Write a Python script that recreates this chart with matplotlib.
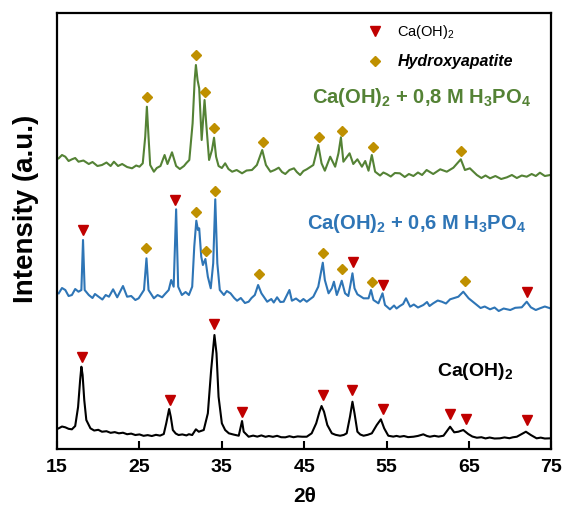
import numpy as np
import matplotlib.pyplot as plt
from matplotlib.lines import Line2D

plt.rcParams['font.family'] = ['Liberation Sans', 'DejaVu Sans']
plt.rcParams['mathtext.fontset'] = 'custom'
plt.rcParams['mathtext.rm'] = 'Liberation Sans'
plt.rcParams['mathtext.it'] = 'Liberation Sans:italic'
plt.rcParams['mathtext.bf'] = 'Liberation Sans:bold'

# XRD patterns: (2theta, intensity a.u., already stacked)
cal = [(15.2, 20.7), (15.6, 22.5), (16.0, 21.7), (16.4, 20.2), (16.8, 19.7), (17.2, 23), (17.55, 42),
       (17.8, 69), (17.95, 82.3), (18.1, 74), (18.3, 49), (18.55, 29), (19.05, 20.7), (19.5, 18.5),
       (20.0, 19.2), (20.45, 17.3), (21.0, 17.8), (21.5, 16.2), (22.0, 16.9), (22.5, 15.7), (23.0, 16.3),
       (23.5, 14.8), (24.0, 15.4), (24.5, 14), (25.0, 14.6), (25.5, 13.2), (26.0, 13.9), (26.5, 13),
       (27.0, 14.2), (27.5, 13.4), (27.95, 15), (28.25, 25.7), (28.6, 40), (28.8, 32.3), (29.05, 19),
       (29.4, 15.5), (29.75, 14), (30.2, 14.6), (30.7, 13.6), (31.0, 14.8), (31.4, 14), (31.85, 19.7),
       (32.2, 17.3), (32.5, 18.2), (32.8, 19), (33.3, 35.7), (33.7, 79), (34.1, 114), (34.35, 95.7),
       (34.6, 52.3), (35.0, 25.7), (35.4, 19), (35.85, 15.7), (36.4, 14.5), (37.05, 13.3), (37.3, 22.3),
       (37.45, 28), (37.65, 17.3), (38.25, 12.3), (38.8, 13.4), (39.3, 12.4), (39.8, 13.6), (40.3, 12.2),
       (40.7, 13), (41.2, 12.2), (41.7, 13.2), (42.2, 11.8), (42.7, 11.7), (43.2, 12.8), (43.7, 11.8),
       (44.2, 12.6), (44.75, 12.3), (45.3, 12.3), (45.9, 15.7), (46.45, 25.7), (46.85, 37.3), (47.1, 43),
       (47.4, 37.3), (47.8, 24), (48.35, 15.7), (48.8, 14.2), (49.35, 13.3), (49.8, 14.1), (50.15, 15.7),
       (50.55, 32.3), (50.85, 47.3), (51.1, 35.7), (51.45, 17.3), (51.8, 14.5), (52.2, 13.3), (52.7, 14.2),
       (53.2, 15.7), (53.8, 24), (54.3, 29.7), (54.7, 20.7), (55.2, 13.3), (55.8, 12.4), (56.2, 13.1),
       (56.6, 12.3), (57.1, 13), (57.6, 11.9), (58.25, 12.3), (58.8, 13.1), (59.45, 14.7), (59.9, 13),
       (60.25, 12.3), (60.8, 13.2), (61.3, 12.4), (61.9, 13.3), (62.4, 19), (62.7, 22.3), (63.2, 16.7),
       (63.7, 17.3), (64.3, 19), (64.9, 15), (65.4, 12.5), (65.95, 11.3), (66.5, 11.8), (67.0, 10.6),
       (67.5, 11.5), (68.1, 10.5), (68.75, 10.7), (69.3, 11.6), (69.9, 10.8), (70.3, 11.7), (70.8, 12.3),
       (71.4, 15), (71.9, 17.3), (72.5, 14), (73.2, 10.7), (73.7, 11.4), (74.2, 10.5), (74.85, 10.7)]

m06 = [(15.2, 155.7), (15.6, 161), (16.0, 159), (16.4, 153), (16.8, 154), (17.2, 160), (17.6, 157.3),
       (17.95, 159), (18.15, 209), (18.35, 159), (18.85, 154), (19.3, 151), (19.6, 155), (20.05, 152.3),
       (20.5, 149.5), (20.9, 154), (21.3, 152.3), (21.8, 159.7), (22.3, 151.7), (23.0, 163), (23.5, 152.3),
       (24.0, 153), (24.5, 149), (24.9, 150.7), (25.55, 159), (25.85, 190.7), (26.1, 159), (26.75, 150.7),
       (27.2, 154), (27.75, 151.7), (28.1, 155), (28.55, 159), (28.85, 169), (29.15, 162.3), (29.45, 239.7),
       (29.7, 162.3), (30.15, 154), (30.6, 157), (31.0, 154), (31.4, 162.3), (31.65, 202.3), (31.9, 228.3),
       (32.1, 219), (32.25, 220.7), (32.5, 192.3), (32.7, 184), (33.0, 190), (33.3, 172.3), (33.65, 160.7),
       (33.95, 185.7), (34.2, 249.7), (34.45, 185.7), (34.75, 159), (35.25, 154), (35.6, 158),
       (36.05, 155.7), (36.5, 151), (36.85, 148.3), (37.3, 151), (37.8, 146), (38.25, 147.3), (38.6, 151),
       (39.0, 154), (39.4, 164), (39.8, 155.7), (40.5, 147.3), (41.0, 150), (41.3, 146.5), (41.7, 151.7),
       (42.1, 147), (42.5, 147.3), (43.2, 159), (43.5, 148.3), (44.0, 150.5), (44.5, 147.3), (44.9, 150),
       (45.3, 147.3), (46.1, 152.3), (46.7, 162.3), (47.0, 175.7), (47.25, 186.3), (47.5, 169),
       (47.95, 155.7), (48.35, 160.7), (48.6, 167.3), (48.95, 154), (49.25, 160.7), (49.55, 168.3),
       (49.95, 155.7), (50.35, 153), (50.6, 164), (50.85, 175.7), (51.1, 160.7), (51.45, 154.7),
       (52.2, 150.7), (52.8, 150.7), (53.1, 159), (53.4, 149), (54.0, 145.7), (54.5, 155.7), (54.8, 144),
       (55.4, 139.7), (55.9, 143.5), (56.2, 140.5), (56.6, 143), (57.0, 145), (57.35, 150.7),
       (57.85, 142.3), (58.3, 144.5), (58.8, 141.5), (59.45, 144), (59.9, 147), (60.2, 143),
       (60.65, 145.7), (61.2, 148.5), (61.7, 147.3), (62.2, 145.5), (62.7, 149.7), (63.2, 151),
       (63.7, 152.3), (64.3, 157.3), (64.95, 150.7), (65.95, 144), (66.4, 141), (66.9, 142.5),
       (67.55, 139.7), (68.1, 141.5), (68.6, 138), (69.2, 140.5), (70.0, 139), (70.6, 141.2),
       (71.4, 141.7), (72.0, 147.3), (72.5, 141.7), (73.1, 139), (73.6, 140.7), (74.2, 142.5), (74.85, 140.7)]

m08 = [(15.2, 290.7), (15.6, 294), (16.0, 292.3), (16.4, 288), (16.8, 289.7), (17.2, 291), (17.6, 287.3),
       (18.2, 288.5), (18.85, 285), (19.3, 287), (19.9, 283), (20.45, 284), (21.0, 286.5), (21.5, 283),
       (21.9, 287.3), (22.4, 283), (22.9, 285), (23.5, 282), (24.1, 280.7), (24.6, 283.5), (25.0, 282.3),
       (25.4, 285.7), (25.7, 312.3), (25.9, 342.3), (26.1, 312.3), (26.3, 284), (26.75, 277.3), (27.1, 281),
       (27.55, 283), (28.05, 294), (28.4, 285), (28.95, 296.7), (29.45, 283), (29.9, 280), (30.4, 283),
       (30.7, 286), (31.05, 289), (31.45, 325.7), (31.7, 369), (31.85, 384), (32.05, 369), (32.25, 360.7),
       (32.55, 309), (32.9, 349), (33.1, 325.7), (33.45, 289), (33.8, 299), (34.05, 311.3), (34.3, 292.3),
       (34.6, 283), (35.0, 281), (35.4, 285.7), (35.8, 280), (36.25, 277.3), (36.8, 279), (37.45, 275.7),
       (38.0, 278.5), (38.65, 279), (39.25, 284), (39.9, 299), (40.35, 284), (40.9, 277.3), (41.4, 279),
       (41.9, 281.3), (42.3, 277), (42.7, 275), (43.2, 279), (43.75, 280.7), (44.1, 277), (44.5, 274),
       (44.9, 278), (45.3, 279.7), (46.1, 284), (46.7, 304), (47.1, 285.7), (47.5, 278.3), (48.15, 292.3),
       (48.75, 282.3), (49.15, 295.7), (49.45, 311.7), (49.75, 287.3), (50.5, 295.7), (50.95, 285),
       (51.45, 289.7), (52.0, 282.3), (52.4, 288), (52.8, 278.3), (53.2, 294), (53.6, 277.3), (54.2, 273.5),
       (54.6, 276.5), (55.0, 275), (55.5, 272.5), (56.0, 276), (56.6, 275.7), (57.2, 272), (57.7, 275),
       (58.25, 273), (58.8, 276.5), (59.3, 274), (59.85, 279), (60.65, 275), (61.5, 279.7), (62.3, 277.3),
       (63.1, 281.3), (64.0, 289.7), (64.5, 279), (65.1, 280.7), (65.95, 274), (66.5, 271), (67.0, 273.5),
       (67.55, 270.7), (68.2, 273), (68.9, 270), (69.6, 271.7), (70.2, 274), (70.8, 271), (71.4, 273.5),
       (72.0, 272.3), (72.6, 275), (73.1, 273), (73.6, 276.3), (74.2, 273), (74.85, 274)]

# phase markers (2theta, height)
cal_ch = [(18.03, 92), (28.68, 49), (34.1, 125), (37.5, 37.3), (47.25, 54), (50.85, 59),
          (54.5, 39.7), (62.7, 35), (64.6, 30), (72.0, 29)]
m06_ch = [(18.15, 219), (29.35, 249), (50.95, 187.3), (54.6, 164), (72.0, 157.3)]
m06_hap = [(25.84, 200.7), (31.9, 236.7), (33.1, 198.3), (34.2, 258.3), (39.55, 175),
           (47.25, 195.7), (49.6, 180), (53.2, 166.7), (64.5, 168)]
m08_hap = [(25.9, 352.3), (31.87, 394), (32.96, 357.3), (34.1, 321.3), (40.0, 307.3),
           (46.8, 312.3), (49.55, 318.3), (53.3, 302.3), (64.07, 298.3)]

green = '#548235'
blue = '#2e75b6'
red = '#c00000'
gold = '#bf9000'

fig = plt.figure(figsize=(5.65, 5.2), dpi=100)
ax = fig.add_axes([0.101, 0.1365, 0.875, 0.8385])

for data, col in [(cal, 'black'), (m06, blue), (m08, green)]:
    d = np.array(data)
    ax.plot(d[:, 0], d[:, 1], color=col, lw=1.5)

for data in [cal_ch, m06_ch]:
    d = np.array(data)
    ax.plot(d[:, 0], d[:, 1], 'v', color=red, ms=6.5)
for data in [m06_hap, m08_hap]:
    d = np.array(data)
    ax.plot(d[:, 0], d[:, 1], 'D', color=gold, ms=4.8)

ax.text(59.2, 352, r'Ca(OH)$_\mathbf{2}$ + 0,8 M H$_\mathbf{3}$PO$_\mathbf{4}$',
        color=green, fontsize=14.5, fontweight='bold', ha='center', va='center')
ax.text(58.6, 226, r'Ca(OH)$_\mathbf{2}$ + 0,6 M H$_\mathbf{3}$PO$_\mathbf{4}$',
        color=blue, fontsize=14.5, fontweight='bold', ha='center', va='center')
ax.text(65.7, 78, r'Ca(OH)$_\mathbf{2}$',
        color='black', fontsize=14, fontweight='bold', ha='center', va='center')

handles = [Line2D([], [], marker='v', color=red, ls='none', ms=6.5),
           Line2D([], [], marker='D', color=gold, ls='none', ms=4.8)]
leg = ax.legend(handles, [r'Ca(OH)$_2$', 'Hydroxyapatite'],
                loc='upper left', bbox_to_anchor=(0.588, 1.008), frameon=False,
                fontsize=10.5, handletextpad=0.5, labelspacing=0.9)
leg.get_texts()[1].set_fontstyle('italic')
leg.get_texts()[1].set_fontweight('bold')
leg.get_texts()[1].set_fontsize(11.5)

ax.set_xlim(15, 75)
ax.set_ylim(0, 436)
ax.set_xticks([15, 25, 35, 45, 55, 65, 75])
ax.set_yticks([])
ax.tick_params(axis='x', direction='in', length=6, width=1.5, labelsize=14, pad=7)
for lab in ax.get_xticklabels():
    lab.set_fontweight('bold')
for sp in ax.spines.values():
    sp.set_linewidth(1.6)

ax.set_xlabel('2θ', fontsize=15, fontweight='bold', labelpad=8)
ax.set_ylabel('Intensity (a.u.)', fontsize=20, fontweight='bold')
ax.yaxis.set_label_coords(-0.036, 0.55)

fig.savefig('out.png', dpi=100)
